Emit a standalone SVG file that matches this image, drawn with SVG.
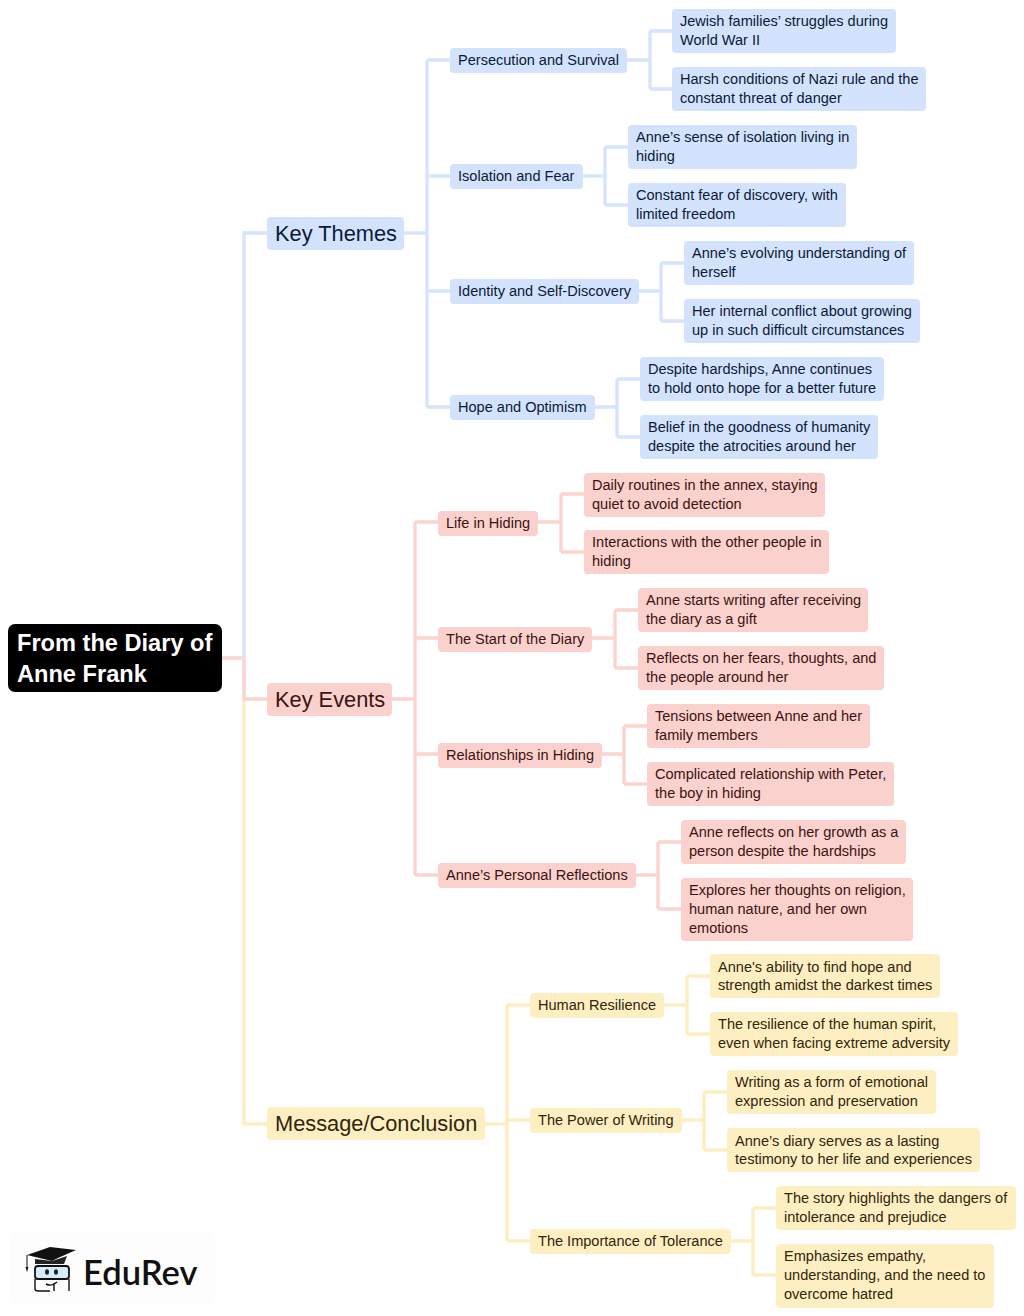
<svg xmlns="http://www.w3.org/2000/svg" width="1024" height="1316" viewBox="0 0 1024 1316">
<style>
text{font-family:"Liberation Sans",Arial,sans-serif;font-size:14.55px}
.c{fill:none;stroke-width:3.4}
.b path,path.b{stroke:#d6e4fd}.r path,path.r{stroke:#fbd3cf}.y path,path.y{stroke:#fdeec2}
.nb rect{fill:#d3e3fd}.nb text{fill:#0c1a35}
.nr rect{fill:#fad1cd}.nr text{fill:#3a1412}
.ny rect{fill:#feefc3}.ny text{fill:#30260a}
.big text{font-size:21.8px}
rect{rx:4px}
</style>
<rect x="10" y="1232" width="205" height="72" fill="#fdfdfd"/>
<g id="connectors">
<g class="c y"><path d="M244 699V1124H267"/><path d="M485 1124H507"/><path d="M507 1005V1241M507 1005H530M507 1120H530M507 1241H530"/>
<path d="M664 1005H687M687 976V1034M687 976H710M687 1034H710"/><path d="M682 1120H704M704 1092V1150M704 1092H727M704 1150H727"/><path d="M731 1241H753M753 1208V1275M753 1208H776M753 1275H776"/></g>
<g class="c r"><path d="M222 658H244V699H267"/><path d="M392 699H415"/><path d="M415 522V875M415 522H438M415 638H438M415 754H438M415 875H438"/>
<path d="M538 522H561M561 494V552M561 494H584M561 552H584"/><path d="M592 638H615M615 610V668M615 610H638M615 668H638"/><path d="M602 754H624M624 726V784M624 726H647M624 784H647"/><path d="M636 875H658M658 842V909M658 842H681M658 909H681"/></g>
<g class="c b"><path d="M244 658V233H267"/><path d="M404 233H427"/><path d="M427 60V407M427 60H450M427 176H450M427 291H450M427 407H450"/>
<path d="M627 60H650M650 31V89M650 31H672M650 89H672"/><path d="M583 176H605M605 147V205M605 147H628M605 205H628"/><path d="M639 291H661M661 263V321M661 263H684M661 321H684"/><path d="M595 407H617M617 379V437M617 379H640M617 437H640"/></g>
</g>
<g id="root"><rect x="8" y="624" width="214" height="68" style="rx:7px" fill="#000"/><text x="17" y="651" fill="#fff" font-weight="700" style="font-size:23.6px">From the Diary of</text><text x="17" y="682" fill="#fff" style="font-size:23.6px" font-weight="700">Anne Frank</text></g>

<g id="key-themes" class="nb big"><rect x="267" y="217" width="137" height="33"/><text x="275" y="241">Key Themes</text></g>
<g id="key-events" class="nr big"><rect x="267" y="683" width="125" height="33"/><text x="275" y="707">Key Events</text></g>
<g id="message" class="ny big"><rect x="267" y="1107" width="218" height="33"/><text x="275" y="1131">Message/Conclusion</text></g>

<g id="persecution" class="nb"><rect x="450" y="48" width="177" height="25"/><text x="458" y="65">Persecution and Survival</text></g>
<g id="isolation" class="nb"><rect x="450" y="164" width="133" height="25"/><text x="458" y="181">Isolation and Fear</text></g>
<g id="identity" class="nb"><rect x="450" y="279" width="189" height="25"/><text x="458" y="296">Identity and Self-Discovery</text></g>
<g id="hope" class="nb"><rect x="450" y="395" width="145" height="25"/><text x="458" y="412">Hope and Optimism</text></g>

<g id="p1" class="nb"><rect x="672" y="9" width="224" height="44"/><text x="680" y="26">Jewish families’ struggles during</text><text x="680" y="45">World War II</text></g>
<g id="p2" class="nb"><rect x="672" y="67" width="254" height="44"/><text x="680" y="84">Harsh conditions of Nazi rule and the</text><text x="680" y="103">constant threat of danger</text></g>
<g id="i1" class="nb"><rect x="628" y="125" width="229" height="44"/><text x="636" y="142">Anne’s sense of isolation living in</text><text x="636" y="161">hiding</text></g>
<g id="i2" class="nb"><rect x="628" y="183" width="218" height="44"/><text x="636" y="200">Constant fear of discovery, with</text><text x="636" y="219">limited freedom</text></g>
<g id="d1" class="nb"><rect x="684" y="241" width="230" height="44"/><text x="692" y="258">Anne’s evolving understanding of</text><text x="692" y="277">herself</text></g>
<g id="d2" class="nb"><rect x="684" y="299" width="236" height="44"/><text x="692" y="316">Her internal conflict about growing</text><text x="692" y="335">up in such difficult circumstances</text></g>
<g id="h1" class="nb"><rect x="640" y="357" width="244" height="44"/><text x="648" y="374">Despite hardships, Anne continues</text><text x="648" y="393">to hold onto hope for a better future</text></g>
<g id="h2" class="nb"><rect x="640" y="415" width="238" height="44"/><text x="648" y="432">Belief in the goodness of humanity</text><text x="648" y="451">despite the atrocities around her</text></g>

<g id="life" class="nr"><rect x="438" y="511" width="100" height="25"/><text x="446" y="528">Life in Hiding</text></g>
<g id="start" class="nr"><rect x="438" y="627" width="154" height="25"/><text x="446" y="644">The Start of the Diary</text></g>
<g id="relationships" class="nr"><rect x="438" y="743" width="164" height="25"/><text x="446" y="760">Relationships in Hiding</text></g>
<g id="reflections" class="nr"><rect x="438" y="863" width="198" height="25"/><text x="446" y="880">Anne’s Personal Reflections</text></g>

<g id="l1" class="nr"><rect x="584" y="473" width="241" height="44"/><text x="592" y="490">Daily routines in the annex, staying</text><text x="592" y="509">quiet to avoid detection</text></g>
<g id="l2" class="nr"><rect x="584" y="530" width="245" height="44"/><text x="592" y="547">Interactions with the other people in</text><text x="592" y="566">hiding</text></g>
<g id="s1" class="nr"><rect x="638" y="588" width="230" height="44"/><text x="646" y="605">Anne starts writing after receiving</text><text x="646" y="624">the diary as a gift</text></g>
<g id="s2" class="nr"><rect x="638" y="646" width="246" height="44"/><text x="646" y="663">Reflects on her fears, thoughts, and</text><text x="646" y="682">the people around her</text></g>
<g id="r1" class="nr"><rect x="647" y="704" width="223" height="44"/><text x="655" y="721">Tensions between Anne and her</text><text x="655" y="740">family members</text></g>
<g id="r2" class="nr"><rect x="647" y="762" width="247" height="44"/><text x="655" y="779">Complicated relationship with Peter,</text><text x="655" y="798">the boy in hiding</text></g>
<g id="a1" class="nr"><rect x="681" y="820" width="225" height="44"/><text x="689" y="837">Anne reflects on her growth as a</text><text x="689" y="856">person despite the hardships</text></g>
<g id="a2" class="nr"><rect x="681" y="878" width="232" height="63"/><text x="689" y="895">Explores her thoughts on religion,</text><text x="689" y="914">human nature, and her own</text><text x="689" y="933">emotions</text></g>

<g id="resilience" class="ny"><rect x="530" y="993" width="134" height="25"/><text x="538" y="1010">Human Resilience</text></g>
<g id="writing" class="ny"><rect x="530" y="1108" width="152" height="25"/><text x="538" y="1125">The Power of Writing</text></g>
<g id="tolerance" class="ny"><rect x="530" y="1229" width="201" height="25"/><text x="538" y="1246">The Importance of Tolerance</text></g>

<g id="m1" class="ny"><rect x="710" y="954" width="230" height="44"/><text x="718" y="972">Anne's ability to find hope and</text><text x="718" y="990">strength amidst the darkest times</text></g>
<g id="m2" class="ny"><rect x="710" y="1012" width="248" height="44"/><text x="718" y="1029">The resilience of the human spirit,</text><text x="718" y="1048">even when facing extreme adversity</text></g>
<g id="w1" class="ny"><rect x="727" y="1070" width="209" height="44"/><text x="735" y="1087">Writing as a form of emotional</text><text x="735" y="1106">expression and preservation</text></g>
<g id="w2" class="ny"><rect x="727" y="1128" width="253" height="44"/><text x="735" y="1146">Anne’s diary serves as a lasting</text><text x="735" y="1164">testimony to her life and experiences</text></g>
<g id="t1" class="ny"><rect x="776" y="1186" width="240" height="44"/><text x="784" y="1203">The story highlights the dangers of</text><text x="784" y="1222">intolerance and prejudice</text></g>
<g id="t2" class="ny"><rect x="776" y="1244" width="218" height="64"/><text x="784" y="1261">Emphasizes empathy,</text><text x="784" y="1280">understanding, and the need to</text><text x="784" y="1299">overcome hatred</text></g>

<g id="logo">
<path d="M27 1255L50 1247L76 1250L58 1258L52 1261Z" fill="#111"/>
<path d="M35 1259V1264H64L67 1256L52 1261Z" fill="#222"/>
<path d="M27 1255V1267" stroke="#111" stroke-width="1" fill="none"/><path d="M25.500 1267h3l-1.500 5z" fill="#111"/>
<rect x="35" y="1266" width="34" height="13" style="rx:3px" fill="#d6ecfa" stroke="#111" stroke-width="1.800"/>
<path d="M35 1279V1289Q35 1291 38 1291H50M54 1291V1283M69 1279V1291M46 1284Q52 1287 57 1282" fill="none" stroke="#111" stroke-width="1.400"/>
<ellipse cx="47" cy="1272" rx="2" ry="2.800" fill="#222"/><ellipse cx="56" cy="1272" rx="2" ry="2.800" fill="#222"/>
<text x="83" y="1285" style="font-family:Lato,sans-serif;font-size:34.5px;font-weight:600" fill="#111">EduRev</text>
</g>
</svg>
